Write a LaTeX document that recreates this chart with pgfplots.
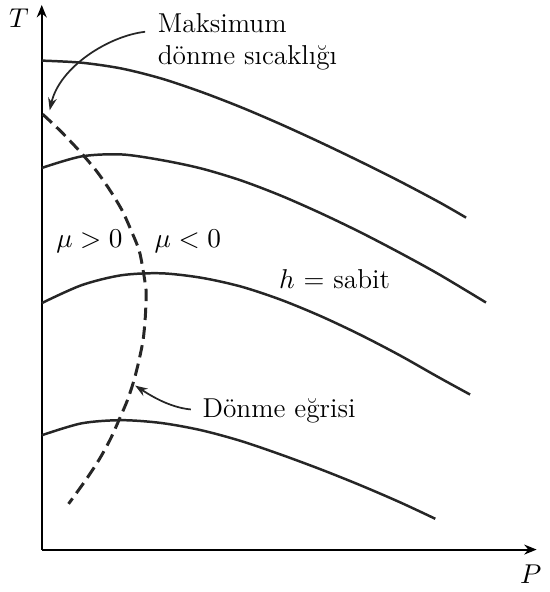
\documentclass[border=0pt]{standalone}
\usepackage{pgfplots}
\pgfplotsset{compat=1.18}
\usetikzlibrary{arrows.meta}

\begin{document}
\begin{tikzpicture}[font=\fontsize{11}{13}\selectfont]
\begin{axis}[
    scale only axis,
    width=199.2pt, height=219.2pt,
    xmin=42, xmax=540,
    ymin=39, ymax=587,
    axis lines=left,
    axis line style={line width=0.8pt, -{Stealth[length=5pt,width=4pt]}},
    xtick=\empty, ytick=\empty,
    clip=false,
]
% h = sabit curves
\addplot[smooth, black!85, line width=1pt] coordinates {
    (42,531)(82,528.9)(122,523.1)(162,513.1)(202,499.7)(242,484.3)(282,467.2)
    (322,448.9)(362,429.7)(402,409.7)(442,388.5)(469,373)};
\addplot[smooth, black!85, line width=1pt] coordinates {
    (42,423)(82,434.6)(122,436.6)(162,431)(202,422.6)(242,410.6)(282,395.4)
    (322,377.8)(362,358.6)(402,337.8)(442,315.8)(489,287.6)};
\addplot[smooth, black!85, line width=1pt] coordinates {
    (42,287)(82,305)(122,315)(162,317)(202,312.6)(242,303.8)(282,290.6)
    (322,274.2)(362,255.4)(402,234.6)(442,212)(473,195)};
\addplot[smooth, black!85, line width=1pt] coordinates {
    (42,154)(82,166)(122,169.2)(162,166.4)(202,159.2)(242,148.4)(282,134.8)
    (322,120)(362,104)(402,86.8)(438,70)};
% inversion curve
\addplot[smooth, black!85, line width=1.2pt, dash pattern=on 5pt off 2.6pt] coordinates {
    (43,477)(61,460)(80,440)(97,420)(111,400)(123,380)(132,360)(140,340)(144,320)(147,300)
    (147,290)(146,270)(144,250)(140,230)(135,210)(128.5,190)(120,170)(111,150)(100,130)
    (87,110)(69,85)};

% annotations
\draw[black!85, line width=0.7pt, -{Stealth[length=5pt,width=3.5pt]}]
    (146,560) .. controls (110,556) and (60,525) .. (50,481);
\node[anchor=base west] at (150,559) {Maksimum};
\node[anchor=base west] at (150,527) {dönme sıcaklığı};
\draw[black!85, line width=0.7pt, -{Stealth[length=5pt,width=3.5pt]}]
    (192,180) .. controls (170,182) and (150,195) .. (136,204);
\node[anchor=base west] at (195,172) {Dönme eğrisi};
\node at (90,349) {$\mu > 0$};
\node at (189,349) {$\mu < 0$};
\node[anchor=base west] at (272,302) {$h$ = sabit};
\node at (19,574) {$T$};
\node at (534,14) {$P$};
\path (0,0) rectangle (540,592);
\end{axis}
\end{tikzpicture}
\end{document}
